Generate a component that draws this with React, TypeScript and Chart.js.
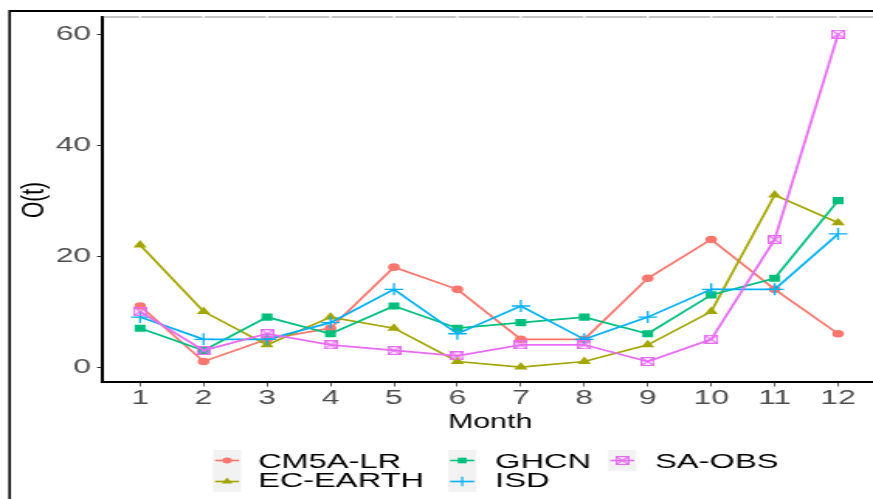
import React, { useEffect, useRef } from 'react';
import { Chart, registerables } from 'chart.js';

Chart.register(...registerables);

// horizontal stretch of the reference picture
const S = 1.55;
const W = Math.round(873 / S);
const H = 499;

const months = [1, 2, 3, 4, 5, 6, 7, 8, 9, 10, 11, 12];
const yTickValues = [0, 20, 40, 60];
const seriesNames = ['CM5A-LR', 'EC-EARTH', 'GHCN', 'ISD', 'SA-OBS'];
const cm5aLr = [11, 1, 5, 7, 18, 14, 5, 5, 16, 23, 14, 6];
const ecEarth = [22, 10, 4, 9, 7, 1, 0, 1, 4, 10, 31, 26];
const ghcn = [7, 3, 9, 6, 11, 7, 8, 9, 6, 13, 16, 30];
const isd = [9, 5, 5, 8, 14, 6, 11, 5, 9, 14, 14, 24];
const saObs = [10, 3, 6, 4, 3, 2, 4, 4, 1, 5, 23, 60];
const seriesValues = [cm5aLr, ecEarth, ghcn, isd, saObs];
const seriesColors = ['#F8766D', '#A3A500', '#00BF7D', '#00B0F6', '#E76BF3'];

const FONT = '"Liberation Sans", Arial, Helvetica, sans-serif';

function makeSquareCross(color: string, size: number) {
  const c = document.createElement('canvas');
  c.width = size;
  c.height = size;
  const g = c.getContext('2d')!;
  g.strokeStyle = color;
  g.lineWidth = 1.2;
  g.strokeRect(0.6, 0.6, size - 1.2, size - 1.2);
  g.beginPath();
  g.moveTo(0.6, 0.6);
  g.lineTo(size - 0.6, size - 0.6);
  g.moveTo(size - 0.6, 0.6);
  g.lineTo(0.6, size - 0.6);
  g.stroke();
  return c;
}

type Marker = { style: string; radius: number };
const markers: Marker[] = [
  { style: 'circle', radius: 3.8 },
  { style: 'triangle', radius: 5 },
  { style: 'rect', radius: 5 },
  { style: 'cross', radius: 6 },
  { style: 'squarecross', radius: 4.5 },
];

function drawMarker(ctx: CanvasRenderingContext2D, m: Marker, color: string, x: number, y: number, r: number, img: HTMLCanvasElement) {
  ctx.save();
  ctx.fillStyle = color;
  ctx.strokeStyle = color;
  ctx.lineWidth = 1.2;
  ctx.beginPath();
  if (m.style === 'circle') {
    ctx.arc(x, y, r, 0, Math.PI * 2);
    ctx.fill();
  } else if (m.style === 'triangle') {
    const s = Math.sin((2 * Math.PI) / 3) * r;
    ctx.moveTo(x, y - r);
    ctx.lineTo(x + s, y + 0.5 * r);
    ctx.lineTo(x - s, y + 0.5 * r);
    ctx.closePath();
    ctx.fill();
  } else if (m.style === 'rect') {
    const h = r * Math.SQRT1_2;
    ctx.rect(x - h, y - h, 2 * h, 2 * h);
    ctx.fill();
  } else if (m.style === 'cross') {
    ctx.moveTo(x, y - r);
    ctx.lineTo(x, y + r);
    ctx.moveTo(x - r, y);
    ctx.lineTo(x + r, y);
    ctx.stroke();
  } else {
    ctx.drawImage(img, x - img.width / 2, y - img.height / 2);
  }
  ctx.restore();
}

export default function App() {
  const ref = useRef<HTMLCanvasElement>(null);

  useEffect(() => {
    const canvas = ref.current!;
    const sqImg = makeSquareCross(seriesColors[4], 9);

    const datasets = seriesNames.map((name, i) => ({
      label: name,
      data: months.map((m, j) => ({ x: m, y: seriesValues[i][j] })),
      borderColor: seriesColors[i],
      backgroundColor: seriesColors[i],
      borderWidth: 1.7,
      pointStyle: (markers[i].style === 'squarecross' ? sqImg : markers[i].style) as any,
      pointRadius: markers[i].radius,
      pointBorderWidth: markers[i].style === 'cross' ? 1.3 : 0,
      pointBorderColor: seriesColors[i],
      pointBackgroundColor: seriesColors[i],
      tension: 0,
      order: seriesNames.length - i,
    }));

    const decor = {
      id: 'decor',
      afterDraw(chart: any) {
        const ctx: CanvasRenderingContext2D = chart.ctx;
        const area = chart.chartArea;
        const xs = chart.scales.x;
        ctx.save();
        // outer frame (left and top)
        ctx.strokeStyle = '#000';
        ctx.lineWidth = 2;
        ctx.beginPath();
        ctx.moveTo(9.6 / S, 11);
        ctx.lineTo(W, 11);
        ctx.stroke();
        ctx.lineWidth = 1.6;
        ctx.beginPath();
        ctx.moveTo(9.6 / S, 10);
        ctx.lineTo(9.6 / S, H);
        ctx.stroke();

        // grey top line with gaps at tick positions
        ctx.strokeStyle = '#C4C4C4';
        ctx.lineWidth = 2;
        const gap = 0.7;
        let start = area.left + 1;
        ctx.beginPath();
        months.forEach((m) => {
          const px = xs.getPixelForValue(m);
          ctx.moveTo(start, 17);
          ctx.lineTo(px - gap, 17);
          start = px + gap;
        });
        ctx.moveTo(start, 17);
        ctx.lineTo(area.right, 17);
        ctx.stroke();

        // axis titles
        ctx.fillStyle = '#000';
        ctx.font = `19.5px ${FONT}`;
        ctx.textAlign = 'center';
        ctx.textBaseline = 'alphabetic';
        ctx.fillText('Month', 490 / S, 428);

        ctx.save();
        ctx.translate(34.5 / S, 200);
        ctx.rotate(-Math.PI / 2);
        ctx.font = `21px ${FONT}`;
        ctx.textAlign = 'center';
        ctx.textBaseline = 'middle';
        ctx.fillText('O(t)', 0, 0);
        ctx.restore();

        // legend
        const colKeyX = [213, 448, 608];
        const colTextX = [258, 495, 655];
        const rowTop = [450, 471];
        const keyW = 28;
        const keyH = 21;
        const textY = [462, 481.5];
        ctx.font = `21px ${FONT}`;
        ctx.textAlign = 'left';
        ctx.textBaseline = 'middle';
        seriesNames.forEach((name, i) => {
          const col = Math.floor(i / 2);
          const row = i % 2;
          const kx = colKeyX[col] / S;
          const kw = keyW / S;
          const ky = rowTop[row];
          ctx.fillStyle = '#F2F2F2';
          ctx.fillRect(kx, ky, kw, keyH);
          const cy = ky + keyH / 2;
          ctx.strokeStyle = seriesColors[i];
          ctx.lineWidth = 1.6;
          ctx.beginPath();
          ctx.moveTo(kx + 2 / S, cy);
          ctx.lineTo(kx + kw - 2 / S, cy);
          ctx.stroke();
          drawMarker(ctx, markers[i], seriesColors[i], kx + kw / 2, cy, markers[i].radius * 0.8, sqImg);
          ctx.fillStyle = '#000';
          ctx.fillText(name, colTextX[col] / S, textY[row]);
        });
        ctx.restore();
      },
    };

    const chart = new Chart(canvas, {
      type: 'line',
      data: { datasets },
      plugins: [decor],
      options: {
        responsive: false,
        animation: false,
        events: [],
        layout: { autoPadding: false, padding: { left: 0, right: 0, top: 17, bottom: H - 382 - 40 } },
        plugins: { legend: { display: false }, tooltip: { enabled: false } },
        scales: {
          x: {
            type: 'linear',
            min: 0.4,
            max: 12.55,
            afterFit: (s: any) => {
              s.height = 40;
              s.paddingLeft = 0;
              s.paddingRight = 0;
            },
            afterBuildTicks: (s: any) => {
              s.ticks = months.map((v) => ({ value: v }));
            },
            grid: { drawOnChartArea: false, drawTicks: true, tickLength: 4.5, tickColor: '#333333', tickWidth: 0.8 },
            border: { display: true, color: '#000', width: 2 },
            ticks: {
              color: '#4D4D4D',
              font: { family: FONT, size: 20.5 },
              padding: 0,
              maxRotation: 0,
              autoSkip: false,
              callback: (v: any) => String(v),
            },
          },
          y: {
            type: 'linear',
            min: -2.7,
            max: 63.1,
            afterFit: (s: any) => {
              s.width = 102 / S;
              s.paddingTop = 0;
              s.paddingBottom = 0;
            },
            afterBuildTicks: (s: any) => {
              s.ticks = yTickValues.map((v) => ({ value: v }));
            },
            grid: { drawOnChartArea: false, drawTicks: true, tickLength: 3.2, tickColor: '#333333', tickWidth: 1 },
            border: { display: true, color: '#000', width: 2 },
            ticks: {
              color: '#4D4D4D',
              font: { family: FONT, size: 20.5 },
              padding: 3.9,
              autoSkip: false,
              callback: (v: any) => String(v),
            },
          },
        },
      } as any,
    });
    return () => chart.destroy();
  }, []);

  return (
    <div style={{ position: 'fixed', left: 0, top: 0, width: 873, height: 499, background: '#fff' }}>
      <canvas ref={ref} width={W} height={H} style={{ width: '873px', height: '499px', display: 'block' }} />
    </div>
  );
}
